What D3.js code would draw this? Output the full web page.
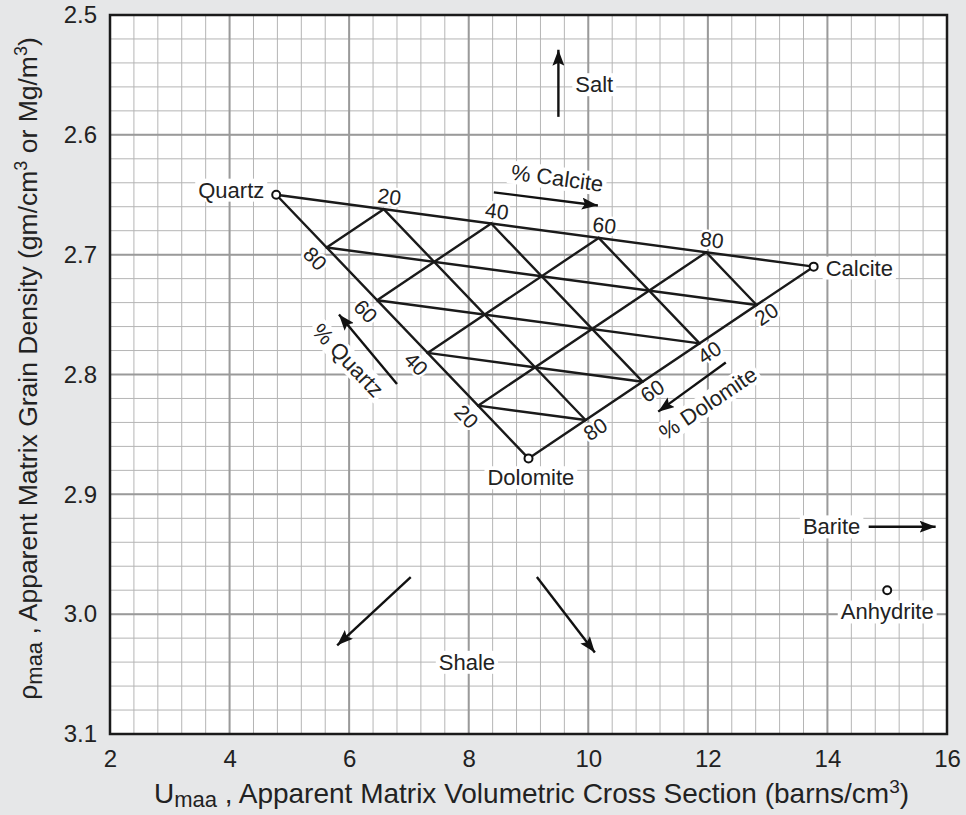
<!DOCTYPE html>
<html><head><meta charset="utf-8">
<script src="https://cdn.jsdelivr.net/npm/d3@7"></script>
<style>
html,body{margin:0;padding:0;background:#e6e7e8;}
svg{display:block;font-family:"Liberation Sans",Arial,Helvetica,sans-serif;}
</style></head>
<body><svg id="c" width="966" height="815"></svg>
<script>
// ---- data ----
const xTicks = [2,4,6,8,10,12,14,16];
const yTicks = [2.5,2.6,2.7,2.8,2.9,3.0,3.1];
const mineralNames = ["Quartz","Calcite","Dolomite"];
const mineralU = [4.78, 13.77, 9.0];
const mineralRho = [2.65, 2.71, 2.87];
const percents = [20,40,60,80];
const anhydrite = {u:15.0, rho:2.98};
// arrows in data units [u, rho] : from -> to
const arrowFrom = [[9.5,2.585],[8.42,2.648],[6.80,2.808],[12.30,2.790],[14.69,2.927],[7.03,2.969],[9.14,2.969]];
const arrowTo   = [[9.5,2.529],[10.16,2.659],[5.83,2.750],[11.17,2.831],[15.81,2.927],[5.80,3.026],[10.11,3.032]];
// free text labels
const noteText = ["Salt","Barite","Anhydrite","Shale"];
const notePos  = [[10.1,2.558],[14.07,2.927],[15.0,2.998],[7.97,3.04]];
const pctText = ["% Calcite","% Quartz","% Dolomite"];
const pctPos  = [[9.48,2.636],[5.98,2.788],[12.0,2.824]];
const mineralLabelPos = [[4.58,2.646],[13.97,2.711],[9.04,2.886]];

// ---- layout ----
const svg = d3.select("#c");
const L=110,T=15,R=947,B=734;
const x = d3.scaleLinear().domain([2,16]).range([L,R]);
const y = d3.scaleLinear().domain([2.5,3.1]).range([T,B]);
const FS = 22;

svg.append("rect").attr("x",L).attr("y",T).attr("width",R-L).attr("height",B-T).attr("fill","#fff");

// grid
const minorX = d3.range(0,36).map(i=>2+i*0.4);
const minorY = d3.range(0,31).map(i=>2.5+i*0.02);
const g = svg.append("g");
g.selectAll(".mx").data(minorX).join("line")
 .attr("x1",d=>x(d)).attr("x2",d=>x(d)).attr("y1",T).attr("y2",B)
 .attr("stroke","#b5b5b5").attr("stroke-width",1);
g.selectAll(".my").data(minorY).join("line")
 .attr("y1",d=>y(d)).attr("y2",d=>y(d)).attr("x1",L).attr("x2",R)
 .attr("stroke","#b5b5b5").attr("stroke-width",1);
g.selectAll(".Mx").data(xTicks).join("line")
 .attr("x1",d=>x(d)).attr("x2",d=>x(d)).attr("y1",T).attr("y2",B)
 .attr("stroke","#9a9a9a").attr("stroke-width",2);
g.selectAll(".My").data(yTicks).join("line")
 .attr("y1",d=>y(d)).attr("y2",d=>y(d)).attr("x1",L).attr("x2",R)
 .attr("stroke","#9a9a9a").attr("stroke-width",2);

// axes tick labels
const xa = d3.axisBottom(x).tickValues(xTicks).tickSize(0).tickPadding(16).tickFormat(d3.format("d"));
const xg = svg.append("g").attr("transform",`translate(0,${B})`).call(xa);
xg.select(".domain").remove();
xg.selectAll("text").attr("font-size",24).attr("fill","#222").attr("font-family","Liberation Sans, Arial, sans-serif");
const ya = d3.axisLeft(y).tickValues(yTicks).tickSize(0).tickPadding(13).tickFormat(d3.format(".1f"));
const yg = svg.append("g").attr("transform",`translate(${L},0)`).call(ya);
yg.select(".domain").remove();
yg.selectAll("text").attr("font-size",24).attr("fill","#222").attr("font-family","Liberation Sans, Arial, sans-serif");

// axis titles
const xt = svg.append("text").attr("x",(L+R)/2+3).attr("y",803).attr("text-anchor","middle")
 .attr("font-size",28).attr("fill","#222");
xt.append("tspan").text("U");
xt.append("tspan").attr("font-size",22).attr("dy",4).text("maa");
xt.append("tspan").attr("dy",-4).text(" ,  Apparent Matrix Volumetric Cross Section (barns/cm");
xt.append("tspan").attr("font-size",19).attr("dy",-10).text("3");
xt.append("tspan").attr("dy",10).text(")");

const yt = svg.append("text").attr("transform",`translate(37,${(T+B)/2-6}) rotate(-90)`).attr("text-anchor","middle")
 .attr("font-size",26.5).attr("fill","#222");
yt.append("tspan").text("ρ");
yt.append("tspan").attr("font-size",22).attr("dy",5).text("maa");
yt.append("tspan").attr("dy",-5).text(" ,  Apparent Matrix Grain Density (gm/cm");
yt.append("tspan").attr("font-size",18).attr("dy",-10).text("3");
yt.append("tspan").attr("dy",10).text(" or Mg/m");
yt.append("tspan").attr("font-size",18).attr("dy",-10).text("3");
yt.append("tspan").attr("dy",10).text(")");

// ternary
const M = mineralNames.map((n,i)=>({name:n,u:mineralU[i],r:mineralRho[i]}));
const [Q,C,D] = M;
const tp = (q,c,d)=>[x(q*Q.u+c*C.u+d*D.u), y(q*Q.r+c*C.r+d*D.r)];
const lines = [];
lines.push([tp(1,0,0),tp(0,1,0)],[tp(1,0,0),tp(0,0,1)],[tp(0,1,0),tp(0,0,1)]);
percents.forEach(p=>{
  const f=p/100;
  lines.push([tp(1-f,f,0),tp(0,f,1-f)]);   // constant calcite
  lines.push([tp(f,1-f,0),tp(f,0,1-f)]);   // constant quartz
  lines.push([tp(1-f,0,f),tp(0,1-f,f)]);   // constant dolomite
});
const tern = svg.append("g");
tern.selectAll("line").data(lines).join("line")
 .attr("x1",d=>d[0][0]).attr("y1",d=>d[0][1]).attr("x2",d=>d[1][0]).attr("y2",d=>d[1][1])
 .attr("stroke","#1a1a1a").attr("stroke-width",2.4).attr("stroke-linecap","round");

const ang = (a,b)=>Math.atan2(b[1]-a[1],b[0]-a[0]);
const aQC = ang(tp(1,0,0),tp(0,1,0));
const aQD = ang(tp(1,0,0),tp(0,0,1));
const aDC = ang(tp(0,0,1),tp(0,1,0));
const deg = r=>r*180/Math.PI;

function placeLabel(pt,a,along,perp){
  return [pt[0]+along*Math.cos(a)-perp*Math.sin(a), pt[1]+along*Math.sin(a)+perp*Math.cos(a)];
}
const tlabels=[];
percents.forEach(p=>{
  const f=p/100;
  tlabels.push({t:p, p:placeLabel(tp(1-f,f,0),aQC,4,-13), a:aQC});
  tlabels.push({t:p, p:placeLabel(tp(f,0,1-f),aQD,0,16), a:aQD});
  tlabels.push({t:p, p:placeLabel(tp(0,1-f,f),aDC,3,13), a:aDC});
});

function haloText(sel){
  return sel.attr("stroke","#fff").attr("stroke-width",5).attr("paint-order","stroke").attr("stroke-linejoin","round");
}
haloText(svg.append("g").selectAll("text").data(tlabels).join("text")
 .attr("transform",d=>`translate(${d.p[0]},${d.p[1]}) rotate(${deg(d.a)})`)
 .attr("text-anchor","middle").attr("dy","0.35em").attr("font-size",21).attr("fill","#222")
 .text(d=>d.t));

// arrows
const defs = svg.append("defs");
defs.append("marker").attr("id","ah").attr("viewBox","0 0 16 12").attr("refX",16).attr("refY",6)
 .attr("markerWidth",16).attr("markerHeight",12).attr("markerUnits","userSpaceOnUse").attr("orient","auto")
 .append("path").attr("d","M0,0 L16,6 L0,12 L3,6 Z").attr("fill","#111");
svg.append("g").selectAll("line").data(arrowFrom.map((f,i)=>[f,arrowTo[i]])).join("line")
 .attr("x1",d=>x(d[0][0])).attr("y1",d=>y(d[0][1])).attr("x2",d=>x(d[1][0])).attr("y2",d=>y(d[1][1]))
 .attr("stroke","#111").attr("stroke-width",2.4).attr("marker-end","url(#ah)");

// boxed label helper
function boxed(parent, tx, ty, text, anchor, rot){
  const gg = parent.append("g").attr("transform",`translate(${tx},${ty}) rotate(${rot||0})`);
  const r = gg.append("rect").attr("fill","#fff");
  const t = gg.append("text").attr("text-anchor",anchor).attr("dy","0.35em").attr("font-size",FS).attr("fill","#222").text(text);
  const bb = t.node().getBBox();
  r.attr("x",bb.x-3).attr("y",bb.y+1).attr("width",bb.width+6).attr("height",bb.height-2);
  return gg;
}
const ann = svg.append("g");
// mineral labels
boxed(ann, x(mineralLabelPos[0][0]), y(mineralLabelPos[0][1]), "Quartz", "end");
boxed(ann, x(mineralLabelPos[1][0]), y(mineralLabelPos[1][1]), "Calcite", "start");
boxed(ann, x(mineralLabelPos[2][0]), y(mineralLabelPos[2][1]), "Dolomite", "middle");
// notes
noteText.forEach((t,i)=>boxed(ann, x(notePos[i][0]), y(notePos[i][1]), t, "middle"));
// percent labels
const pctAng=[aQC,aQD,aDC];
pctText.forEach((t,i)=>boxed(ann, x(pctPos[i][0]), y(pctPos[i][1]), t, "middle", deg(pctAng[i])));

// mineral points
svg.append("g").selectAll("circle").data(M.concat([{u:anhydrite.u,r:anhydrite.rho}])).join("circle")
 .attr("cx",d=>x(d.u)).attr("cy",d=>y(d.r)).attr("r",4).attr("fill","#fff").attr("stroke","#111").attr("stroke-width",2);

// frame
svg.append("rect").attr("x",L).attr("y",T).attr("width",R-L).attr("height",B-T)
 .attr("fill","none").attr("stroke","#1a1a1a").attr("stroke-width",2.5);
</script></body></html>
